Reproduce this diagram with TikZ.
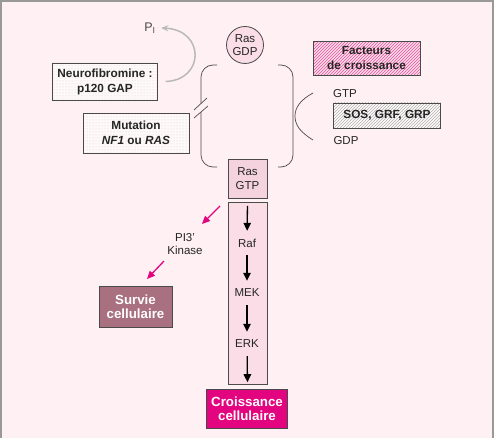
\documentclass[tikz,border=0pt]{standalone}
\usepackage{fontspec}
\setmainfont{Liberation Sans}
\usetikzlibrary{patterns,arrows.meta}

\definecolor{fond}{HTML}{FFF0F3}
\definecolor{rosepale}{HTML}{FADDE6}
\definecolor{rosegtp}{HTML}{F5D3DE}
\definecolor{magenta}{HTML}{E2057F}
\definecolor{mauve}{HTML}{A9707F}
\definecolor{trait}{HTML}{4A4A4A}

\begin{document}
\begin{tikzpicture}[x=1pt,y=-1pt,
    font=\fontsize{11.5}{13.5}\selectfont, text=black!85,
    boite/.style={draw=trait, align=center, inner sep=0pt},
    gras/.style={font=\fontsize{11.8}{15}\selectfont\bfseries},
    sortie/.style={boite, text=white, font=\fontsize{13.3}{14.5}\selectfont\bfseries},
    fleche/.style={-{Triangle[length=8pt,width=7.5pt]}, line width=1.3pt},
    rose/.style={-{Triangle[length=8pt,width=7pt]}, line width=1.3pt, draw=magenta},
    accolade/.style={draw=trait, line width=0.7pt, rounded corners=12pt}]
    \useasboundingbox (0,0) rectangle (494,438);
    \fill[fond] (0,0) rectangle (494,438);
    \draw[gray!80, line width=2pt] (1,438) -- (1,1) -- (493,1) -- (493,438);

    % cycle Ras
    \node[boite, circle, minimum size=37pt, fill=rosepale, line width=0.8pt] (rasgdp) at (245,45) {Ras\\GDP};
    \node[boite, minimum width=39pt, minimum height=39pt, fill=rosegtp] (rasgtp) at (247.5,178.5) {Ras\\GTP};
    \draw[accolade] (217,65) -- (201,65) -- (201,167) -- (217,167);
    \draw[accolade] (278,65) -- (293,65) -- (293,167) -- (278,167);
    \draw[draw=trait, line width=0.7pt] (313,93) .. controls (300,100) and (295,108) .. (295,116)
        .. controls (295,125) and (300,132) .. (313,140);
    \fill[fond] (194,110) -- (207,98) -- (208,106) -- (194,118) -- cycle;
    \draw[draw=trait, line width=0.7pt] (194,110) -- (207,98) (194,118) -- (208,106);

    % voie des MAP kinases
    \node[boite, minimum width=39pt, minimum height=182pt, fill=rosepale] (colonne) at (247.5,293) {};
    \node[minimum height=24pt, inner sep=0pt] (raf) at (247,243) {Raf};
    \node[minimum height=24pt, inner sep=0pt] (mek) at (247,293) {MEK};
    \node[minimum height=24pt, inner sep=0pt] (erk) at (247,344) {ERK};
    \draw[fleche, shorten <=4pt] (colonne.north) -- (raf);
    \draw[fleche] (raf) -- (mek);
    \draw[fleche] (mek) -- (erk);
    \draw[fleche, shorten >=2pt] (erk) -- (colonne.south);
    \node[sortie, minimum width=81pt, minimum height=39pt, fill=magenta] (croissance) at (247,408.5) {Croissance\\cellulaire};

    % voie PI3 kinase
    \node[align=center, inner sep=0pt] (pi3k) at (185,244) {PI3'\\Kinase};
    \coordinate (r1) at (220,206);
    \coordinate (r2) at (202,224);
    \coordinate (r3) at (164,261);
    \coordinate (r4) at (147,279);
    \draw[rose] (r1) -- (r2);
    \draw[rose] (r3) -- (r4);
    \node[sortie, minimum width=73pt, minimum height=41pt, fill=mauve] (survie) at (135.5,306.5) {Survie\\cellulaire};

    % regulateurs
    \node[boite, gras, minimum width=105pt, minimum height=37pt,
        preaction={fill=white!60!fond}, pattern=dots, pattern color=gray!35] (neuro) at (105,81.5) {Neurofibromine :\\p120 GAP};
    \node[boite, gras, minimum width=106pt, minimum height=40pt,
        preaction={fill=white!60!fond}, pattern=dots, pattern color=gray!35] (mutation) at (136,133) {Mutation\\\textit{NF1} ou \textit{RAS}};
    \node[text=trait, font=\fontsize{12.5}{14}\selectfont] (pi) at (150,28) {P\textsubscript{I}};
    \draw[gray!55, line width=1.5pt, -{Stealth[length=7pt,width=6pt]}] ([xshift=8pt]neuro.east)
        .. controls (205,80) and (205,30) .. ([xshift=2pt]pi.east);
    \node[boite, gras, minimum width=107pt, minimum height=34pt,
        preaction={fill=rosepale}, pattern=north east lines, pattern color=magenta!70] (facteurs) at (366.5,58.5) {Facteurs\\de croissance};
    \node[boite, gras, minimum width=107pt, minimum height=25pt,
        preaction={fill=white!70!fond}, pattern=north east lines, pattern color=gray!60] (sos) at (387,115.5) {SOS, GRF, GRP};
    \node (gtp) at (345,94) {GTP};
    \node (gdp) at (346,141) {GDP};
\end{tikzpicture}
\end{document}
